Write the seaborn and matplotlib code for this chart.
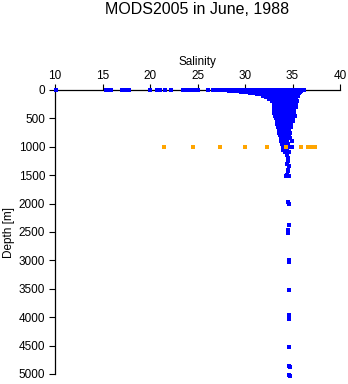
import matplotlib
matplotlib.use("Agg")
import matplotlib.pyplot as plt
import seaborn as sns
import pandas as pd

# ---- data ----
surface_salinity = [10.1, 15.4, 15.6, 15.9, 17.1, 17.4, 17.8, 20.0, 20.7, 20.9, 21.1,
                    21.6, 22.2, 23.5, 23.8, 24.1, 24.4, 24.7, 25.0, 26.1, 26.6, 26.9,
                    27.2, 27.5, 27.8, 28.1, 28.4, 28.7, 29.0, 29.3, 29.6, 29.9, 30.2,
                    30.5, 30.8, 31.1, 31.4, 31.7, 32.0, 32.3, 32.6, 32.9, 33.2, 33.5,
                    33.8, 34.1, 34.4, 34.7, 35.0, 35.3, 35.6, 35.9, 36.2]

cloud_depths = [15, 35, 55, 75, 100, 125, 150, 200, 250, 300, 350, 400, 450, 500,
                550, 600, 650, 700, 750, 800, 850, 900, 950, 1000, 1050, 1100]
cloud_salinity = [
    [28.3, 28.7, 29.0, 29.4, 29.7, 30.1, 30.4, 30.8, 31.1, 31.5, 31.8, 32.2, 32.5, 32.9,
     33.2, 33.6, 33.9, 34.3, 34.6, 35.0, 35.3, 35.7, 35.9],
    [29.6, 29.9, 30.3, 30.6, 31.0, 31.3, 31.7, 32.0, 32.4, 32.7, 33.1, 33.4, 33.8, 34.1,
     34.5, 34.8, 35.2, 35.5, 35.8],
    [30.5, 30.9, 31.2, 31.6, 31.9, 32.3, 32.6, 33.0, 33.3, 33.7, 34.0, 34.4, 34.7, 35.1,
     35.4, 35.7],
    [31.3, 31.6, 32.0, 32.3, 32.7, 33.0, 33.4, 33.7, 34.1, 34.4, 34.8, 35.1, 35.4, 35.6],
    [31.9, 32.2, 32.6, 32.9, 33.3, 33.6, 34.0, 34.3, 34.7, 35.0, 35.3, 35.6],
    [32.2, 32.5, 32.9, 33.2, 33.6, 33.9, 34.3, 34.6, 35.0, 35.4],
    [32.5, 32.8, 33.2, 33.5, 33.9, 34.2, 34.6, 34.9, 35.3],
    [32.8, 33.1, 33.5, 33.8, 34.2, 34.5, 34.9, 35.2, 35.5],
    [33.0, 33.3, 33.7, 34.0, 34.4, 34.7, 35.1, 35.4],
    [33.0, 33.4, 33.7, 34.1, 34.4, 34.8, 35.1, 35.4],
    [33.1, 33.5, 33.8, 34.2, 34.5, 34.9, 35.2],
    [33.1, 33.4, 33.8, 34.1, 34.5, 34.8, 35.2],
    [33.2, 33.5, 33.9, 34.2, 34.6, 34.9, 35.3],
    [33.3, 33.6, 34.0, 34.3, 34.7, 35.0],
    [33.4, 33.7, 34.1, 34.4, 34.8, 35.0],
    [33.4, 33.8, 34.1, 34.5, 34.8],
    [33.5, 33.8, 34.2, 34.5, 34.8],
    [33.6, 33.9, 34.3, 34.6],
    [33.6, 34.0, 34.3, 34.7],
    [33.7, 34.0, 34.3, 34.6],
    [33.8, 34.1, 34.4, 34.7],
    [33.8, 34.1, 34.4, 34.9],
    [33.9, 34.2, 34.5],
    [34.0, 34.3, 34.6, 34.9],
    [34.0, 34.4],
    [34.2, 34.6],
]

deep_depth = [1150, 1200, 1250, 1300, 1340, 1400, 1420, 1490, 1510, 1520, 1980, 2010,
              2370, 2460, 2510, 2990, 3020, 3520, 3970, 4030, 4520, 4860, 4880, 5010, 5040]
deep_salinity = [34.4, 34.5, 34.5, 34.4, 34.6, 34.5, 34.5, 34.4, 34.6, 34.3, 34.5, 34.6,
                 34.6, 34.5, 34.5, 34.6, 34.6, 34.6, 34.6, 34.6, 34.6, 34.6, 34.7, 34.6, 34.7]

orange_depth = 1000
orange_salinity = [21.5, 24.5, 27.4, 30.0, 32.3, 34.3, 35.9, 36.6, 36.9, 37.2, 37.4]

x_ticks = [10, 15, 20, 25, 30, 35, 40]
y_ticks = [0, 500, 1000, 1500, 2000, 2500, 3000, 3500, 4000, 4500, 5000]

# ---- build tables ----
rows = []
for s in surface_salinity:
    rows.append((s, 0, "all"))
for d, sal_list in zip(cloud_depths, cloud_salinity):
    for s in sal_list:
        rows.append((s, d, "all"))
for d, s in zip(deep_depth, deep_salinity):
    rows.append((s, d, "all"))
blue_df = pd.DataFrame(rows, columns=["Salinity", "Depth", "group"])
orange_df = pd.DataFrame({"Salinity": orange_salinity,
                          "Depth": [orange_depth] * len(orange_salinity)})

# ---- plot ----
sns.set_theme(style="white")
plt.rcParams["font.family"] = ["Liberation Sans", "DejaVu Sans"]

fig = plt.figure(figsize=(3.48, 3.84), dpi=100)
ax = fig.add_axes([55 / 348, 1 - 374 / 384, 285 / 348, 284 / 384])

sns.scatterplot(data=blue_df, x="Salinity", y="Depth", color="#0000ff", marker="s",
                s=7, linewidth=0, ax=ax, clip_on=False, zorder=3)
sns.scatterplot(data=orange_df, x="Salinity", y="Depth", color="#ffa500", marker="s",
                s=8, linewidth=0, ax=ax, clip_on=False, zorder=4)

ax.set_xlim(10, 40)
ax.set_ylim(5000, 0)
ax.xaxis.tick_top()
ax.xaxis.set_label_position("top")
ax.set_xticks(x_ticks)
ax.set_yticks(y_ticks)
ax.set_xticklabels([str(t) for t in x_ticks])
ax.set_yticklabels([str(t) for t in y_ticks])
ax.tick_params(axis="x", direction="out", length=4, width=0.8, labelsize=8.5, pad=2,
               colors="black", top=True, bottom=False)
ax.tick_params(axis="y", direction="out", length=4, width=0.8, labelsize=8.5, pad=3,
               colors="black", left=True)
ax.set_xlabel("Salinity", fontsize=8.5, labelpad=3, color="black")
ax.set_ylabel("Depth [m]", fontsize=8.5, labelpad=3, color="black")

for side in ["right", "bottom"]:
    ax.spines[side].set_visible(False)
for side in ["top", "left"]:
    ax.spines[side].set_visible(True)
    ax.spines[side].set_color("black")
    ax.spines[side].set_linewidth(0.9)
ax.set_facecolor("white")
ax.grid(False)

fig.text(197 / 348, 1 - 10 / 384, "MODS2005 in June, 1988", ha="center", va="center",
         fontsize=11.5, color="black")

fig.savefig("out.png", dpi=100, facecolor="white")
